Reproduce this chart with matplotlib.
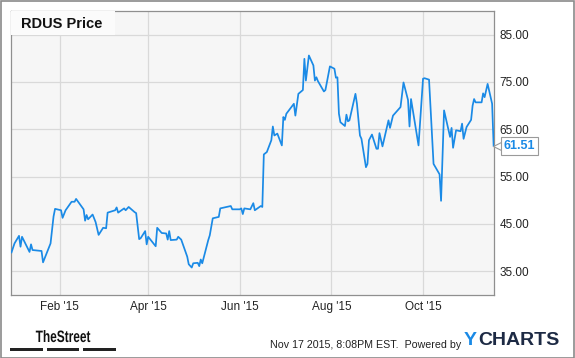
import numpy as np
import pandas as pd
import matplotlib
matplotlib.use("Agg")
import matplotlib.pyplot as plt
import matplotlib.dates as mdates
from matplotlib.patches import Rectangle, PathPatch
from matplotlib.textpath import TextPath
from matplotlib.font_manager import FontProperties
from matplotlib.transforms import ScaledTranslation, Affine2D, IdentityTransform

plt.rcParams['font.family'] = ['Liberation Sans', 'DejaVu Sans']

# RDUS daily close (turning points)
dates = ["2014-12-31", "2015-01-02", "2015-01-05", "2015-01-06", "2015-01-07", "2015-01-12",
         "2015-01-13", "2015-01-14", "2015-01-20", "2015-01-21", "2015-01-26", "2015-01-28",
         "2015-01-29", "2015-02-02", "2015-02-03", "2015-02-05", "2015-02-09", "2015-02-11",
         "2015-02-12", "2015-02-17", "2015-02-18", "2015-02-19", "2015-02-20", "2015-02-23",
         "2015-02-25", "2015-02-27", "2015-03-02", "2015-03-04", "2015-03-05", "2015-03-10",
         "2015-03-11", "2015-03-12", "2015-03-16", "2015-03-17", "2015-03-19", "2015-03-23",
         "2015-03-24", "2015-03-26", "2015-03-27", "2015-03-30", "2015-03-31", "2015-04-01",
         "2015-04-06", "2015-04-07", "2015-04-10", "2015-04-13", "2015-04-14", "2015-04-15",
         "2015-04-16", "2015-04-20", "2015-04-21", "2015-04-23", "2015-04-27", "2015-04-28",
         "2015-04-30", "2015-05-01", "2015-05-04", "2015-05-05", "2015-05-06", "2015-05-07",
         "2015-05-11", "2015-05-12", "2015-05-14", "2015-05-18", "2015-05-19", "2015-05-26",
         "2015-05-27", "2015-06-01", "2015-06-02", "2015-06-03", "2015-06-04", "2015-06-08",
         "2015-06-10", "2015-06-11", "2015-06-15", "2015-06-16", "2015-06-17", "2015-06-19",
         "2015-06-22", "2015-06-23", "2015-06-24", "2015-06-26", "2015-06-29", "2015-06-30",
         "2015-07-01", "2015-07-02", "2015-07-07", "2015-07-08", "2015-07-10", "2015-07-13",
         "2015-07-14", "2015-07-15", "2015-07-17", "2015-07-20", "2015-07-21", "2015-07-22",
         "2015-07-23", "2015-07-27", "2015-07-28", "2015-07-31", "2015-08-03", "2015-08-04",
         "2015-08-05", "2015-08-06", "2015-08-07", "2015-08-10", "2015-08-11", "2015-08-12",
         "2015-08-13", "2015-08-17", "2015-08-18", "2015-08-20", "2015-08-21", "2015-08-24",
         "2015-08-25", "2015-08-26", "2015-08-28", "2015-08-31", "2015-09-01", "2015-09-02",
         "2015-09-04", "2015-09-08", "2015-09-09", "2015-09-11", "2015-09-14", "2015-09-16",
         "2015-09-18", "2015-09-21", "2015-09-22", "2015-09-23", "2015-09-28", "2015-10-01",
         "2015-10-02", "2015-10-05", "2015-10-08", "2015-10-12", "2015-10-13", "2015-10-15",
         "2015-10-19", "2015-10-20", "2015-10-21", "2015-10-23", "2015-10-26", "2015-10-27",
         "2015-10-28", "2015-10-30", "2015-11-02", "2015-11-03", "2015-11-04", "2015-11-05",
         "2015-11-09", "2015-11-10", "2015-11-11", "2015-11-13", "2015-11-16", "2015-11-17"]
prices = [39.0, 40.9, 42.5, 40.2, 42.3, 39.1,
          40.7, 39.5, 39.3, 36.9, 40.9, 46.6,
          48.2, 47.9, 46.3, 47.9, 49.7, 49.7,
          50.3, 48.1, 45.7, 46.9, 46.0, 47.0,
          45.4, 42.7, 44.2, 44.1, 47.4, 47.9,
          48.5, 47.4, 48.3, 47.9, 48.6, 47.5,
          47.3, 41.8, 42.0, 43.5, 40.7, 42.3,
          40.3, 44.2, 43.1, 43.0, 41.7, 43.5,
          41.6, 41.7, 42.3, 41.7, 38.1, 36.5,
          35.8, 36.7, 36.8, 36.1, 37.5, 36.7,
          41.6, 42.6, 46.2, 46.5, 48.3, 48.8,
          48.1, 48.1, 48.3, 47.1, 48.3, 48.1,
          49.4, 47.9, 48.8, 48.6, 59.7, 60.2,
          62.7, 65.6, 63.7, 64.1, 61.6, 67.6,
          67.0, 68.3, 70.4, 67.9, 72.5, 73.3,
          79.9, 75.3, 80.6, 78.5, 75.3, 76.0,
          75.2, 73.0, 73.3, 78.3, 77.8, 75.9,
          76.0, 68.3, 66.5, 65.7, 68.1, 66.7,
          66.9, 72.5, 70.4, 63.7, 63.0, 57.0,
          57.7, 62.7, 63.9, 60.9, 60.9, 64.2,
          61.4, 66.9, 65.3, 67.9, 69.0, 69.7,
          74.9, 71.2, 65.6, 71.4, 61.6, 75.7,
          75.8, 75.5, 57.7, 55.5, 49.9, 69.0,
          63.4, 65.3, 61.1, 64.8, 64.6, 66.2,
          63.0, 65.5, 67.0, 70.0, 71.4, 70.7,
          70.7, 72.6, 71.8, 74.6, 70.4, 61.51]

y_ticks = [35, 45, 55, 65, 75, 85]
ticker_name = "RDUS Price"
stamp = "Nov 17 2015, 8:08PM EST.  Powered by"

LINE = "#1a8ae6"
W, H = 575, 358

df = pd.DataFrame({"date": pd.to_datetime(dates), "price": prices})

fig = plt.figure(figsize=(W / 100, H / 100), dpi=100)
fig.patch.set_facecolor("white")

def fx(px):
    return px / W

def fy(py):
    return 1 - py / H

ax = fig.add_axes([fx(10.5), fy(295), (494 - 10.5) / W, (295 - 11) / H])
ax.set_facecolor("#f6f6f6")
ax.plot(df["date"], df["price"], color=LINE, lw=1.25, solid_joinstyle="round", zorder=3)

ax.set_xlim(pd.Timestamp("2014-12-30 08:00"), pd.Timestamp("2015-11-17 06:00"))
ax.set_ylim(30, 90)
ax.xaxis.set_major_locator(mdates.MonthLocator(bymonth=[2, 4, 6, 8, 10]))
ax.xaxis.set_major_formatter(mdates.DateFormatter("%b '%y"))
ax.set_yticks(y_ticks)
ax.set_yticklabels([f"{v:.2f}" for v in y_ticks])
ax.yaxis.tick_right()
ax.tick_params(axis="both", length=0, labelsize=8.5, labelcolor="#222222")
ax.tick_params(axis="y", pad=4)
ax.tick_params(axis="x", pad=4.5)
ax.grid(True, color="#d9d9d9", lw=0.9, zorder=0)
ax.set_axisbelow(True)
for s in ax.spines.values():
    s.set_color("#8f8f8f")
    s.set_linewidth(0.9)

# last value tag with pointer
last_d, last_v = df["date"].iloc[-1], df["price"].iloc[-1]
ax.annotate(f"{last_v:.2f}", xy=(last_d, last_v), xytext=(7.2, 0), textcoords="offset points",
            ha="left", va="center", fontsize=9, fontweight="bold", color=LINE,
            bbox=dict(boxstyle="square,pad=0.24", fc="white", ec="#9a9a9a", lw=0.8),
            annotation_clip=False, zorder=8)
ax.plot([last_d], [last_v], marker="<", ms=6.5, mfc="white", mec="#9a9a9a", mew=0.8,
        clip_on=False, zorder=7,
        transform=ax.transData + ScaledTranslation(3.5 / 72, 0, fig.dpi_scale_trans))

# title box in top-left of plot
fig.add_artist(Rectangle((fx(11), fy(35)), (115 - 11) / W, (35 - 11.5) / H,
                         transform=fig.transFigure, fc="#fbfbfb", ec="none", zorder=2))
fig.text(fx(21), fy(24), ticker_name, fontsize=10.5, fontweight="bold", color="#111111",
         ha="left", va="center", zorder=3)

# footer: condensed "TheStreet" wordmark
tp = TextPath((0, 0), "TheStreet", size=16.5,
              prop=FontProperties(family="Liberation Sans", weight="bold"))
ext = tp.get_extents()
sx = 54.5 / ext.width
tr = Affine2D().translate(-ext.x0, 0).scale(sx, 1).translate(35.8, H - 342) + IdentityTransform()
fig.add_artist(PathPatch(tp, transform=tr, fc="#111111", ec="none"))

for x0, x1 in [(10.3, 42.5), (46.8, 79), (83.4, 115.8)]:
    fig.add_artist(Rectangle((fx(x0), fy(350.5)), (x1 - x0) / W, 3 / H,
                             transform=fig.transFigure, fc="#222222", ec="none"))
fig.text(fx(269.5), fy(345), stamp, fontsize=7.7, color="#222222", ha="left", va="center")
fig.text(fx(464), fy(340.5), "Y", fontsize=14, fontweight="bold", color="#1a8ae6",
         ha="left", va="center")
fig.text(fx(478.5), fy(340.5), "CHARTS", fontsize=14, fontweight="bold", color="#1d2a44",
         ha="left", va="center")

# outer frame
fig.add_artist(Rectangle((0.5 / W, 0.5 / H), 1 - 1.5 / W, 1 - 1.5 / H, transform=fig.transFigure,
                         fc="none", ec="#8a8a8a", lw=1.2))

fig.savefig("out.png", dpi=100)
